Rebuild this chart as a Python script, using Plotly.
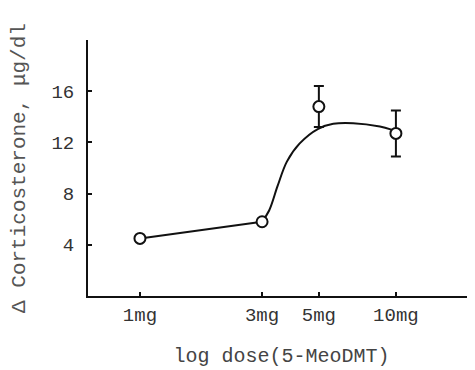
import plotly.graph_objects as go

# Measured points
doses = [1, 3, 5, 10]
cort = [4.5, 5.8, 14.8, 12.7]
err = [0, 0, 1.6, 1.8]

# Fitted curve anchor points
line_dose = [1, 3]
line_val = [4.5, 5.8]
curve_dose = [3, 3.2, 3.45, 3.75, 4.2, 4.97, 5.69, 6.81, 8.66, 9.6]
curve_val = [5.8, 6.7, 8.6, 10.5, 11.9, 13.06, 13.45, 13.5, 13.24, 13.0]

x_ticks = [1, 3, 5, 10]
x_labels = ["1mg", "3mg", "5mg", "10mg"]
y_ticks = [4, 8, 12, 16, 20]
y_labels = ["4", "8", "12", "16", ""]

FONT = "Liberation Mono, Courier New, monospace"

fig = go.Figure()
fig.add_trace(go.Scatter(
    x=line_dose, y=line_val, mode="lines",
    line=dict(color="#111", width=2),
    hoverinfo="skip", showlegend=False))
fig.add_trace(go.Scatter(
    x=curve_dose, y=curve_val, mode="lines",
    line=dict(color="#111", width=2, shape="spline", smoothing=1.0),
    hoverinfo="skip", showlegend=False))
fig.add_trace(go.Scatter(
    x=doses, y=cort, mode="markers",
    marker=dict(symbol="circle", size=11, color="white",
                line=dict(color="#111", width=2)),
    error_y=dict(type="data", array=err, visible=True, color="#111",
                 thickness=2, width=5),
    showlegend=False))

fig.update_layout(
    width=475, height=370,
    margin=dict(l=80, r=8, t=32, b=82, autoexpand=False),
    paper_bgcolor="white", plot_bgcolor="white",
    font=dict(family=FONT, color="#222"),
    xaxis=dict(type="log", range=[-0.203, 1.309],
               tickvals=x_ticks, ticktext=x_labels,
               ticks="inside", ticklen=4, tickwidth=2, tickcolor="#111",
               showline=True, linecolor="#111", linewidth=2,
               showgrid=False, zeroline=False, automargin=False,
               tickfont=dict(size=19, family=FONT, color="#333"),
               title=dict(text="log dose(5-MeoDMT)",
                          font=dict(size=20, family=FONT, color="#444"),
                          standoff=22)),
    yaxis=dict(range=[0, 20], tickvals=y_ticks, ticktext=y_labels,
               ticks="inside", ticklen=4, tickwidth=2, tickcolor="#111",
               showline=True, linecolor="#111", linewidth=2,
               showgrid=False, zeroline=False, automargin=False,
               ticklabelstandoff=8,
               tickfont=dict(size=19, family=FONT, color="#333"),
               title=dict(text="Δ Corticosterone, μg/dl",
                          font=dict(size=21, family=FONT, color="#555"),
                          standoff=20)),
)

fig.write_html("out.html")
